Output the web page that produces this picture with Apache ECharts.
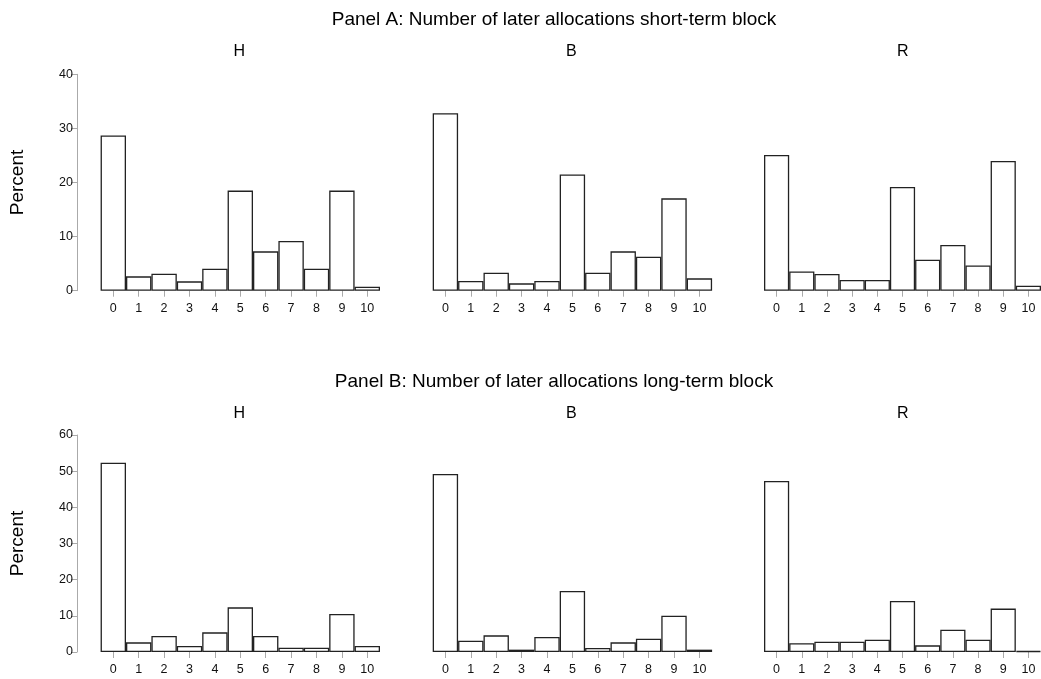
<!DOCTYPE html>
<html>
<head>
<meta charset="utf-8">
<script src="https://cdn.jsdelivr.net/npm/echarts@6/dist/echarts.min.js"></script>
<style>html,body{margin:0;padding:0;background:#fff}#c{width:1041px;height:679px}</style>
</head>
<body>
<div id="c"></div>
<script>
const categories = ['0','1','2','3','4','5','6','7','8','9','10'];
const panelTitles = ['Panel A: Number of later allocations short-term block', 'Panel B: Number of later allocations long-term block'];
const groupNames = ['H','B','R'];
const yTicksA = [0, 40, 10];
const yTicksB = [0, 60, 10];
const shortH = [28.7, 2.65, 3.14, 1.73, 4.07, 18.5, 7.27, 9.18, 4.07, 18.5, 0.74];
const shortB = [32.8, 1.79, 3.33, 1.36, 1.79, 21.5, 3.33, 7.27, 6.29, 17.07, 2.28];
const shortR = [25.08, 3.57, 3.08, 1.97, 1.97, 19.17, 5.73, 8.44, 4.68, 23.98, 0.92];
const longH = [52.35, 2.67, 4.42, 1.66, 5.44, 12.35, 4.42, 1.2, 1.2, 10.5, 1.66];
const longB = [49.2, 3.13, 4.6, 0.65, 4.15, 16.87, 1.1, 2.67, 3.69, 10.05, 0.65];
const longR = [47.3, 2.4, 2.86, 2.86, 3.41, 14.1, 1.84, 6.18, 3.41, 12.0, 0.28];

const font = 'Liberation Sans, Arial, Helvetica, sans-serif';
const lefts = [100.6, 432.7, 764];
const gw = 279.4;
const rows = [
  {top: 74.3, height: 216.4, ticks: yTicksA, data: [shortH, shortB, shortR], titleTop: 5, subTop: 39},
  {top: 435, height: 217, ticks: yTicksB, data: [longH, longB, longR], titleTop: 367, subTop: 401}
];

const grid = [], xAxis = [], yAxis = [], series = [], title = [];
rows.forEach((row, r) => {
  title.push({text: panelTitles[r], left: 549, top: row.titleTop, textAlign: 'center',
    textStyle: {fontFamily: font, fontSize: 19, fontWeight: 'normal', color: '#000'}});
  for (let c = 0; c < 3; c++) {
    const idx = r * 3 + c;
    title.push({text: groupNames[c], left: lefts[c] + gw / 2 - 6, top: row.subTop, textAlign: 'center',
      textStyle: {fontFamily: font, fontSize: 16, fontWeight: 'normal', color: '#000'}});
    grid.push({left: lefts[c], top: row.top, width: gw, height: row.height});
    xAxis.push({type: 'category', gridIndex: idx, data: categories,
      axisLine: {show: false},
      axisTick: {show: true, alignWithLabel: true, length: 6, lineStyle: {color: '#aaa'}},
      axisLabel: {fontFamily: font, fontSize: 12.5, color: '#111', margin: 11, interval: 0}});
    yAxis.push({type: 'value', gridIndex: idx, min: row.ticks[0], max: row.ticks[1], interval: row.ticks[2],
      show: c === 0, offset: 23.6,
      name: c === 0 ? 'Percent' : '', nameLocation: 'middle', nameGap: 50,
      nameTextStyle: {fontFamily: font, fontSize: 19, color: '#000'},
      axisLine: {show: true, lineStyle: {color: '#aaa'}},
      axisTick: {show: true, length: 6, lineStyle: {color: '#aaa'}},
      axisLabel: {fontFamily: font, fontSize: 12.5, color: '#111', margin: 4},
      splitLine: {show: false}});
    series.push({type: 'bar', xAxisIndex: idx, yAxisIndex: idx, data: row.data[c],
      barCategoryGap: '0%', silent: true, animation: false,
      itemStyle: {color: '#fff', borderColor: '#222', borderWidth: 1.3}});
  }
});

const chart = echarts.init(document.getElementById('c'), null, {renderer: 'canvas'});
chart.setOption({backgroundColor: '#fff', animation: false, title, grid, xAxis, yAxis, series});
</script>
</body>
</html>
